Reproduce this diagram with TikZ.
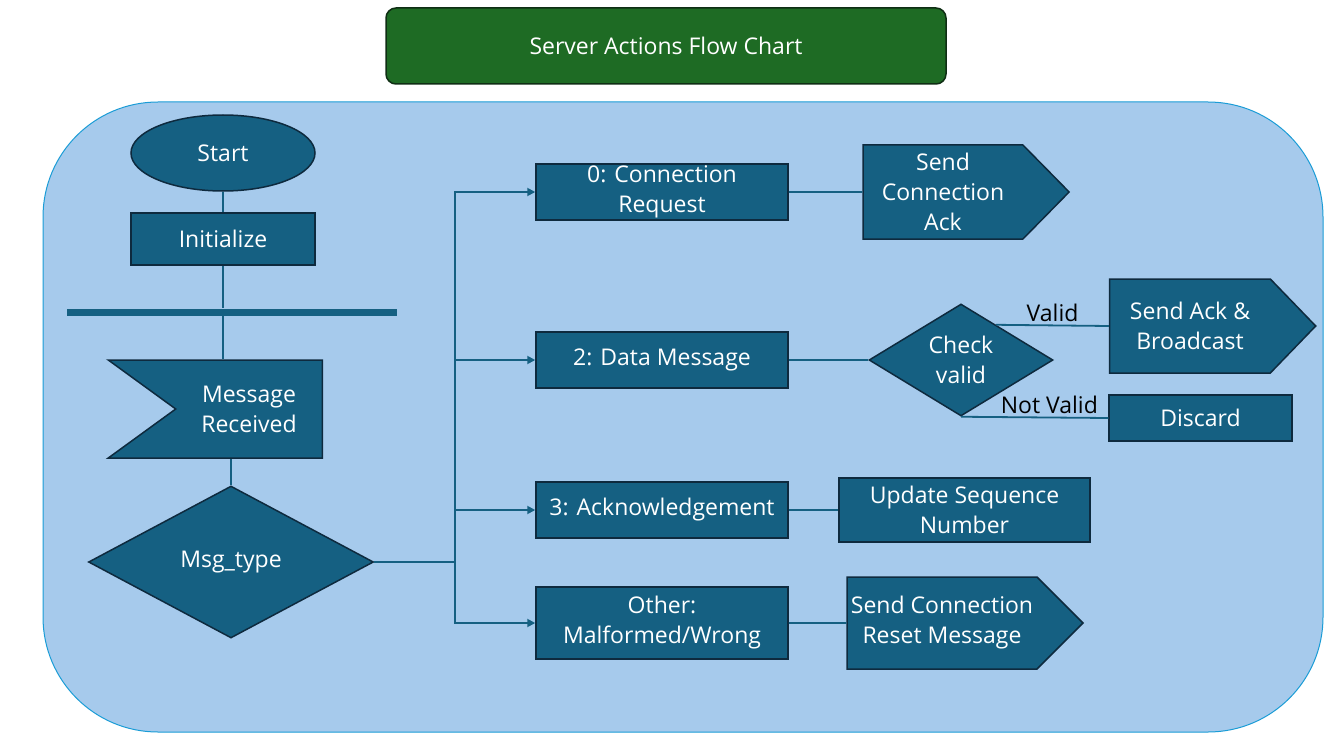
\documentclass[tikz,border=0pt]{standalone}
\usepackage{fontspec}
\setmainfont{Open Sans}
\usetikzlibrary{shapes.geometric,shapes.symbols,arrows.meta}
\definecolor{boxblue}{HTML}{156082}
\definecolor{boxline}{HTML}{0E2A3E}
\definecolor{panel}{HTML}{A6CAEC}
\definecolor{panelline}{HTML}{1A9CD6}
\definecolor{titlegreen}{HTML}{1E6B24}
\definecolor{titleline}{HTML}{0F2E14}
\begin{document}
\begin{tikzpicture}
[x=1pt, y=-1pt,
 every node/.style={font=\fontsize{23}{30}\selectfont, align=center, text=white, inner sep=0pt},
 box/.style={draw=boxline, fill=boxblue, line width=1.5pt},
 link/.style={draw=boxblue, line width=1.8pt},
 lbl/.style={text=black, inner sep=3pt},
 >={Triangle[length=8pt,width=8pt]}]
\useasboundingbox (0,0) rectangle (1333,749);
\node (0) at (683,417) [shape=rectangle, rounded corners=115pt, draw=panelline, fill=panel, line width=1pt, minimum width=1280pt, minimum height=630pt] {};
\node (t) at (666,46) [shape=rectangle, rounded corners=10pt, draw=titleline, fill=titlegreen, line width=1.5pt, minimum width=560pt, minimum height=76pt] {Server Actions Flow Chart};
\node (1) at (223,153) [box, shape=ellipse, minimum width=184pt, minimum height=76pt] {Start};
\node (2) at (223,239) [box, shape=rectangle, minimum width=184pt, minimum height=52pt] {Initialize};
\node (3) at (232,312) [fill=boxblue, minimum width=330pt, minimum height=7pt] {};
\node (4) at (249,409) [box, shape=signal, signal from=west, signal to=nowhere, signal pointer angle=72, minimum width=214pt, minimum height=98pt] {Message\\Received};
\node (5) at (231,562) [box, shape=diamond, aspect=1.875, minimum width=285pt, minimum height=152pt] {Msg\_type};
\coordinate (j) at (455,562);
\node (6) at (662,192) [box, shape=rectangle, minimum width=252pt, minimum height=56pt] {0: Connection\\Request};
\node (7) at (662,360) [box, shape=rectangle, minimum width=252pt, minimum height=56pt] {2: Data Message};
\node (8) at (662,510) [box, shape=rectangle, minimum width=252pt, minimum height=56pt] {3: Acknowledgement};
\node (9) at (662,623) [box, shape=rectangle, minimum width=252pt, minimum height=72pt] {Other:\\Malformed/Wrong};
\node (10) at (943,192) [box, shape=signal, signal to=east, signal pointer angle=91, minimum width=206pt, minimum height=94pt] {Send\\Connection\\Ack};
\node (11) at (961,360) [box, shape=diamond, aspect=1.64, minimum width=184pt, minimum height=112pt] {Check\\valid};
\node (12) at (1190,326) [box, shape=signal, signal to=east, signal pointer angle=92, minimum width=206pt, minimum height=94pt] {Send Ack \&\\Broadcast};
\node (13) at (1200.5,418) [box, shape=rectangle, minimum width=183pt, minimum height=46pt] {Discard};
\node (14) at (964.5,510) [box, shape=rectangle, minimum width=251pt, minimum height=64pt] {Update Sequence\\Number};
\node (15) at (942,623) [box, shape=signal, signal to=east, signal pointer angle=90, minimum width=236pt, minimum height=92pt] {Send Connection\\Reset Message};
\draw [link] (1) -- (2);
\draw [link] (2.south) -- (2.south |- 3.north);
\draw [link] (2.south |- 3.south) -- (2.south |- 4.north);
\draw [link] (4.south -| 5.north) -- (5.north);
\draw [link] (5) -- (j);
\draw [link, ->] (j) |- (6);
\draw [link, ->] (j) |- (7);
\draw [link, ->] (j) |- (8);
\draw [link, ->] (j) |- (9);
\draw [link] (6) -- (10);
\draw [link] (7) -- (11);
\draw [link] (11.45) -- (12.west) node [midway, above, lbl] {Valid};
\draw [link] (11.south) -- (13.west) node [pos=0.6, above, lbl] {Not Valid};
\draw [link] (8) -- (14);
\draw [link] (9) -- (15);
\end{tikzpicture}
\end{document}
